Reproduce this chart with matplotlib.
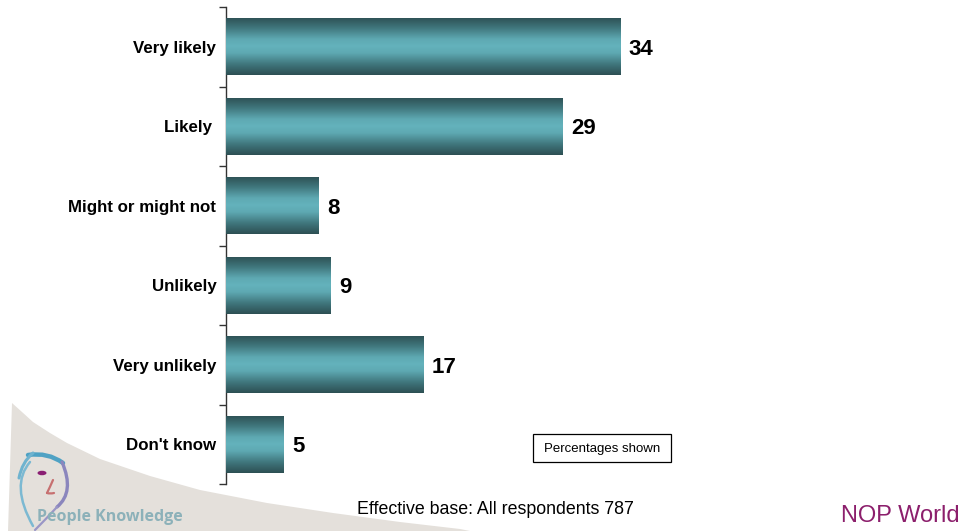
import numpy as np
import matplotlib
matplotlib.use("Agg")
import matplotlib.pyplot as plt
from matplotlib.colors import LinearSegmentedColormap
from matplotlib.patches import Polygon, Rectangle, Ellipse
from matplotlib.path import Path
from matplotlib.patches import PathPatch

categories = ["Very likely", "Likely ", "Might or might not", "Unlikely", "Very unlikely", "Don't know"]
values = [34, 29, 8, 9, 17, 5]

plt.rcParams['font.family'] = ['Liberation Sans', 'DejaVu Sans']

W, H = 961, 531
fig = plt.figure(figsize=(W / 100, H / 100), dpi=100)
fig.patch.set_facecolor("white")

# background swoosh (figure coords, pixel based)
sx = np.array([8, 12, 22, 33, 50, 67, 100, 150, 200, 267, 333, 400, 460, 470, 8])
sy = np.array([531, 403, 412, 422, 433, 443, 459, 476, 490, 503, 513, 522, 529, 531, 531])
swoosh = Polygon(np.column_stack([sx / W, 1 - sy / H]), closed=True,
                 transform=fig.transFigure, facecolor="#e4e0db", edgecolor="none", zorder=0)
fig.patches.append(swoosh)

left_px, right_px = 226, 226 + 40 * 11.59
top_px, bot_px = 7, 484
ax = fig.add_axes([left_px / W, 1 - bot_px / H, (right_px - left_px) / W, (bot_px - top_px) / H])
ax.set_facecolor("none")

y = np.arange(len(categories))
bars = ax.barh(y, values, height=0.72, color="#4f9aa3", edgecolor="none", zorder=2)
ax.set_xlim(0, 40)
ax.set_ylim(len(categories) - 0.5, -0.5)

cmap = LinearSegmentedColormap.from_list(
    "cyl", [(0.0, "#2d4f53"), (0.18, "#3f757b"), (0.38, "#5ea9b2"), (0.5, "#64b2bc"),
            (0.62, "#5ea9b2"), (0.82, "#3f757b"), (1.0, "#2d4f53")])
grad = np.linspace(0, 1, 256).reshape(-1, 1)
for b in bars:
    x0, y0, w, h = b.get_x(), b.get_y(), b.get_width(), b.get_height()
    im = ax.imshow(grad, cmap=cmap, aspect="auto", extent=(x0, x0 + w, y0 + h, y0),
                   interpolation="bicubic", zorder=3)
    im.set_clip_path(b)
ax.set_xlim(0, 40)
ax.set_ylim(len(categories) - 0.5, -0.5)

for b, v in zip(bars, values):
    ax.text(b.get_width() + 0.75, b.get_y() + b.get_height() / 2, str(v),
            ha="left", va="center_baseline", fontsize=16, fontweight="bold",
            color="black", zorder=4)

for s in ["top", "right", "bottom"]:
    ax.spines[s].set_visible(False)
ax.spines["left"].set_color("#333333")
ax.spines["left"].set_linewidth(1.0)
ax.set_xticks([])
ax.set_yticks(y)
ax.set_yticklabels(categories, fontsize=12.2, fontweight="bold")
ax.tick_params(axis="y", which="major", length=0, pad=7)
ax.set_yticks(np.arange(-0.5, len(categories)), minor=True)
ax.tick_params(axis="y", which="minor", length=5, width=1, color="#333333", direction="out")

# Percentages shown box
fig.text((533 + 671) / 2 / W, 1 - 449 / H, "Percentages shown", ha="center", va="center",
         fontsize=9.5, color="black")
fig.patches.append(Rectangle((533 / W, 1 - 462 / H), (671 - 533) / W, 28 / H,
                             transform=fig.transFigure, facecolor="white",
                             edgecolor="black", linewidth=0.9, zorder=1))

fig.text(495 / W, 1 - 509 / H, "Effective base: All respondents 787", ha="center", va="center",
         fontsize=12.8, color="black")

fig.text(900 / W, 1 - 516 / H, "NOP World", ha="center", va="center", fontsize=17,
         color="#8c1f6c")

fig.text(37 / W, 1 - 517 / H, "People Knowledge", ha="left", va="center", fontsize=11.5,
         color="#8cb1b9", fontweight="bold", family=["Open Sans", "DejaVu Sans"])

# logo sketch
def fig_pts(pts):
    return [(px / W, 1 - py / H) for px, py in pts]

def curve(pts, color, lw):
    codes = [Path.MOVETO] + [Path.CURVE3] * (len(pts) - 1)
    p = PathPatch(Path(fig_pts(pts), codes), transform=fig.transFigure,
                  facecolor="none", edgecolor=color, linewidth=lw, zorder=2,
                  capstyle="round")
    fig.patches.append(p)

# brow
curve([(28, 455), (48, 452), (63, 463)], "#4fa2c4", 3.2)
# left upper stroke
curve([(33, 453), (22, 462), (19, 478)], "#6fb3cf", 2.2)
# left outline
curve([(30, 462), (10, 485), (33, 526)], "#7cb9d2", 1.8)
# right outline (purple)
curve([(62, 462), (75, 492), (57, 507)], "#8b86bd", 2.4)
curve([(57, 507), (45, 520), (35, 530)], "#9a96c6", 1.6)
# eye
fig.patches.append(Ellipse((42 / W, 1 - 473 / H), 9 / W, 4.5 / H, transform=fig.transFigure,
                           facecolor="#8a1f73", edgecolor="none", zorder=3))
# nose
curve([(53, 480), (50, 487), (47, 493)], "#c77070", 1.6)
curve([(47, 493), (50, 494), (54, 493)], "#c77070", 1.6)

fig.savefig("out.png", dpi=100, facecolor="white")
